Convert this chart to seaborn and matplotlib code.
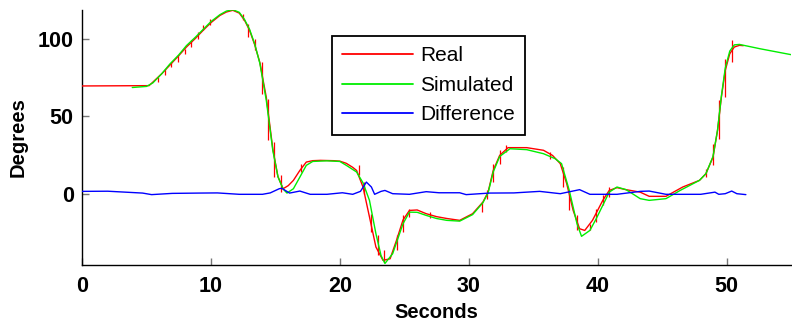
import matplotlib
matplotlib.use("Agg")
import matplotlib.pyplot as plt
import numpy as np
import pandas as pd
import seaborn as sns

# Joint angle over time: measured, simulated and their difference
real_t = [0, 5.2, 5.5, 6.2, 6.8, 7.5, 8.1, 8.8, 9.4, 10.0, 10.7, 11.2, 11.7, 12.2, 12.6,
          13.0, 13.4, 13.8, 14.3, 14.8, 15.2, 15.6, 16.0, 16.4, 16.9, 17.4, 17.9, 18.5,
          19.5, 20.0, 20.5, 21.0, 21.3, 21.8, 22.3, 22.8, 23.35, 23.9, 24.4, 24.9, 25.4,
          26.0, 26.7, 27.5, 28.3, 29.3, 30.3, 31.1, 31.5, 31.9, 32.4, 33.05, 34.5, 35.8,
          36.5, 37.1, 37.6, 38.1, 38.6, 39.0, 39.6, 40.4, 40.9, 41.5, 42.2, 43.3, 44.0,
          45.3, 46.6, 47.9, 48.4, 48.95, 49.3, 49.6, 49.9, 50.25, 50.6, 51.0, 51.3]
real_y = [69.5, 69.7, 72.0, 77.5, 82.8, 89.0, 94.6, 100.2, 105.4, 110.3, 115.0, 117.2, 118.3,
          116.5, 112.0, 105.4, 96.0, 84.5, 62.0, 29.0, 11.0, 3.2, 5.2, 8.6, 15.0, 20.4, 21.3,
          21.5, 21.3, 21.0, 19.6, 17.0, 15.0, 4.3, -15.0, -34.4, -43.0, -42.0, -30.0, -17.0,
          -10.8, -10.5, -12.9, -14.8, -16.0, -17.2, -12.9, -5.4, 1.0, 15.0, 24.7, 29.7, 29.7,
          28.0, 24.7, 19.4, 6.5, -10.8, -22.6, -23.7, -17.2, -4.3, 2.1, 3.9, 2.6, 1.0, -1.7,
          -1.7, 4.3, 8.6, 12.9, 23.6, 40.8, 62.3, 79.5, 90.3, 94.6, 95.7, 95.5]

sim_t = [3.9, 5.0, 5.5, 6.2, 6.8, 7.5, 8.1, 8.8, 9.4, 10.0, 10.7, 11.2, 11.7, 12.2, 12.6,
         13.0, 13.4, 13.8, 14.3, 14.8, 15.2, 15.6, 15.9, 16.4, 16.9, 17.4, 17.9, 19.0, 20.0,
         20.5, 21.3, 21.8, 22.3, 22.8, 23.2, 23.5, 24.1, 24.9, 25.4, 26.0, 26.7, 27.5, 28.3,
         29.3, 30.3, 31.1, 31.5, 31.9, 32.4, 33.2, 34.5, 35.8, 36.7, 37.2, 37.8, 38.4, 38.75,
         39.4, 39.9, 40.4, 40.9, 41.5, 42.2, 42.7, 43.3, 44.0, 45.3, 46.4, 47.9, 48.4, 48.95,
         49.3, 49.6, 49.9, 50.25, 50.6, 51.0, 52.6, 55.0]
sim_y = [68.5, 69.2, 71.5, 77.5, 83.5, 89.5, 95.5, 101.0, 106.0, 111.0, 115.5, 117.8, 118.7,
         117.0, 112.5, 106.0, 96.5, 84.0, 60.0, 28.0, 11.0, 3.0, 0.4, 3.2, 10.7, 18.3, 20.8,
         21.2, 20.8, 18.3, 14.0, 7.0, -4.3, -25.8, -40.0, -45.0, -38.7, -19.4, -11.9, -12.0,
         -14.0, -16.0, -17.2, -17.7, -13.5, -5.8, 0.5, 14.0, 24.0, 29.0, 28.4, 25.8, 22.6,
         19.4, 2.1, -19.4, -27.5, -23.7, -16.0, -7.5, 1.0, 4.3, 2.6, 0.0, -3.2, -4.3, -3.2,
         2.1, 8.6, 12.9, 24.0, 41.0, 63.0, 81.0, 92.0, 96.0, 96.3, 93.5, 89.7]

diff_t = [0, 2.0, 4.7, 5.4, 7.0, 9.1, 10.5, 12.2, 14.0, 14.6, 15.3, 15.5, 16.1, 16.9, 17.7,
          19.0, 20.2, 21.0, 21.6, 22.06, 22.45, 22.7, 23.2, 23.5, 24.1, 25.4, 26.7, 27.7,
          29.3, 29.8, 31.6, 33.5, 35.5, 37.1, 38.6, 39.4, 40.2, 41.5, 43.3, 44.0, 45.3, 48.0,
          49.1, 49.4, 49.9, 50.4, 50.8, 51.5]
diff_y = [1.5, 1.6, 0.4, -0.6, 0.2, 0.4, 0.5, -0.4, -0.4, 0.5, 3.2, 3.5, 0.4, 1.7, -0.4,
          -0.4, 0.6, -0.4, 1.5, 7.5, 4.3, -0.4, 1.5, 2.1, 0.0, -0.4, 1.3, 0.6, 0.6, -0.6, 0.4,
          0.5, 1.5, 0.0, 2.6, -0.4, -0.4, -0.4, 1.5, 1.7, -0.4, -0.4, 1.0, -0.4, 0.0, 1.7,
          0.0, -0.6]

# Sample glitches in the measured signal (time, low, high)
spike_t = [5.9, 6.4, 6.9, 7.45, 7.97, 8.49, 9.0, 9.4, 9.92, 12.5, 12.9, 13.4, 14.0, 14.43,
           14.87, 15.47, 17.0, 21.5, 21.9, 22.45, 22.96, 23.4, 24.4, 24.9, 25.4, 27.0, 31.0,
           31.4, 31.9, 32.4, 32.9, 36.3, 37.3, 37.8, 38.4, 39.4, 39.9, 40.4, 40.9, 48.4,
           48.95, 49.4, 49.9, 50.45]
spike_lo = [72.0, 76.3, 81.7, 84.9, 90.3, 94.6, 100.0, 105.4, 108.6, 111.8, 101.0, 92.5,
            64.5, 34.4, 10.7, 1.0, 13.9, 11.8, 0.0, -24.8, -39.8, -44.0, -36.6, -24.8, -15.0,
            -16.0, -11.9, -3.2, 7.5, 19.4, 26.9, 22.6, 4.3, -10.8, -23.7, -23.7, -18.3, -7.5,
            -2.2, 10.7, 18.3, 35.5, 62.3, 84.9]
spike_hi = [75.2, 80.6, 84.9, 89.2, 93.5, 98.9, 104.3, 108.6, 112.9, 116.1, 109.7, 100.0,
            84.9, 61.3, 33.3, 11.8, 19.4, 18.3, 7.5, -12.9, -26.9, -36.6, -26.9, -14.0, -9.7,
            -12.0, -5.4, 2.1, 19.4, 27.9, 31.2, 26.9, 17.2, 0.0, -14.0, -19.4, -9.7, -1.1,
            4.3, 16.1, 32.3, 60.2, 87.1, 98.9]

labels = ["Real", "Simulated", "Difference"]
colors = {"Real": "#ff0000", "Simulated": "#00ee00", "Difference": "#0000ff"}

df = pd.concat([
    pd.DataFrame({"Seconds": real_t, "Degrees": real_y, "series": "Real"}),
    pd.DataFrame({"Seconds": sim_t, "Degrees": sim_y, "series": "Simulated"}),
    pd.DataFrame({"Seconds": diff_t, "Degrees": diff_y, "series": "Difference"}),
], ignore_index=True)

sns.set_style("white")
plt.rcParams["font.family"] = ["Liberation Sans", "DejaVu Sans"]
plt.rcParams["text.color"] = "black"
plt.rcParams["axes.labelcolor"] = "black"
plt.rcParams["xtick.labelcolor"] = "black"
plt.rcParams["ytick.labelcolor"] = "black"

fig = plt.figure(figsize=(7.92, 3.22), dpi=100)
ax = fig.add_axes([82 / 792, 57 / 322, 709 / 792, 255 / 322])

ax.vlines(spike_t, spike_lo, spike_hi, color="#ff0000", linewidth=0.9, zorder=2)
sns.lineplot(data=df, x="Seconds", y="Degrees", hue="series", hue_order=labels,
             palette=colors, sort=False, estimator=None, linewidth=1.0, ax=ax, zorder=3)

ax.set_xlim(0, 55)
ax.set_ylim(-46, 118.5)
ax.set_xticks([0, 10, 20, 30, 40, 50])
ax.set_yticks([0, 50, 100])

sns.despine(ax=ax)
for side in ("left", "bottom"):
    ax.spines[side].set_color("black")
    ax.spines[side].set_linewidth(1.0)

ax.tick_params(axis="both", which="major", direction="in", length=5, width=1,
               color="#777777", labelcolor="black", labelsize=15.5, bottom=True, left=True)
ax.tick_params(axis="x", pad=8)
ax.tick_params(axis="y", pad=6)
for lab in ax.get_xticklabels() + ax.get_yticklabels():
    lab.set_fontweight("bold")

ax.set_xlabel("Seconds", fontsize=14.5, fontweight="bold", labelpad=4, color="black")
ax.set_ylabel("Degrees", fontsize=14.5, fontweight="bold", labelpad=7, color="black")

leg = ax.legend(loc="upper left", bbox_to_anchor=(331.7 / 792, 1 - 36 / 322),
                bbox_transform=fig.transFigure, frameon=True, fancybox=False,
                edgecolor="black", framealpha=1, fontsize=15, handlelength=3.4,
                handletextpad=0.33, borderpad=0.5, labelspacing=0.5, borderaxespad=0)
leg.get_frame().set_linewidth(1.3)
for line in leg.get_lines():
    line.set_linewidth(1.3)
for txt in leg.get_texts():
    txt.set_color("black")

fig.savefig("out.png", dpi=100)
